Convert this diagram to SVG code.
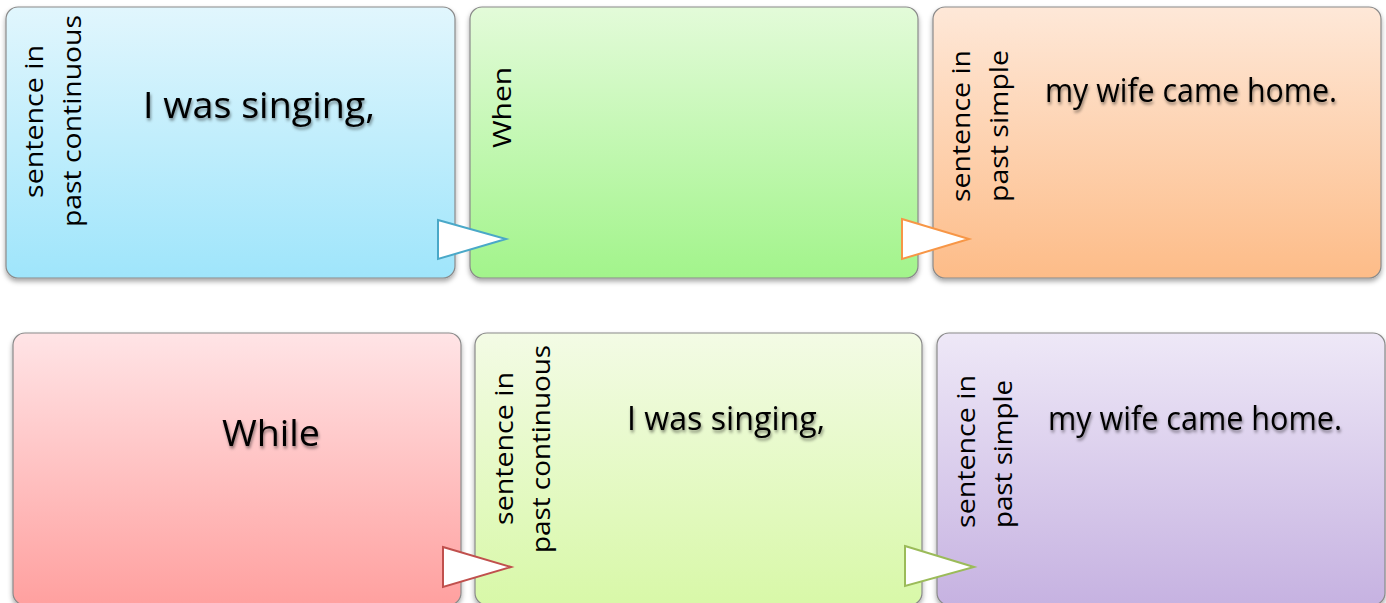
<svg xmlns="http://www.w3.org/2000/svg" width="1386" height="603" viewBox="0 0 1386 603">
  <defs>
    <linearGradient id="gBlue" x1="0" y1="0" x2="0" y2="1">
      <stop offset="0" stop-color="#e1f6fd"/>
      <stop offset="1" stop-color="#9fe5fb"/>
    </linearGradient>
    <linearGradient id="gGreen" x1="0" y1="0" x2="0" y2="1">
      <stop offset="0" stop-color="#e3fbd9"/>
      <stop offset="1" stop-color="#a2f48b"/>
    </linearGradient>
    <linearGradient id="gOrange" x1="0" y1="0" x2="0" y2="1">
      <stop offset="0" stop-color="#fee8d8"/>
      <stop offset="1" stop-color="#fdbc88"/>
    </linearGradient>
    <linearGradient id="gRed" x1="0" y1="0" x2="0" y2="1">
      <stop offset="0" stop-color="#ffe4e6"/>
      <stop offset="1" stop-color="#ffa09f"/>
    </linearGradient>
    <linearGradient id="gLime" x1="0" y1="0" x2="0" y2="1">
      <stop offset="0" stop-color="#f3fbe5"/>
      <stop offset="1" stop-color="#d8f8a8"/>
    </linearGradient>
    <linearGradient id="gPurple" x1="0" y1="0" x2="0" y2="1">
      <stop offset="0" stop-color="#eee8f7"/>
      <stop offset="1" stop-color="#c6b2e1"/>
    </linearGradient>
    <filter id="boxShadow" x="-5%" y="-5%" width="110%" height="115%">
      <feDropShadow dx="0" dy="3" stdDeviation="2.5" flood-color="#000" flood-opacity="0.35"/>
    </filter>
    <filter id="textShadow" x="-10%" y="-30%" width="120%" height="160%">
      <feDropShadow dx="1" dy="2.5" stdDeviation="1.8" flood-color="#000" flood-opacity="0.45"/>
    </filter>
  </defs>
  <style>
    .box { stroke: #8a8a8a; stroke-width: 1.2; filter: url(#boxShadow); }
    .lbl { font-family: "Open Sans", "DejaVu Sans", sans-serif; font-size: 26px; fill: #000; text-anchor: middle; }
    .main { font-family: "Open Sans", "DejaVu Sans", sans-serif; fill: #000; filter: url(#textShadow); }
    .flag { fill: #fff; stroke-width: 2; stroke-linejoin: miter; }
  </style>

  <rect width="1386" height="603" fill="#fff"/>

  <!-- top row -->
  <g id="node-past-continuous-1">
    <rect class="box" x="6" y="7" width="449" height="271" rx="12" fill="url(#gBlue)"/>
    <text class="lbl" transform="translate(43,121.5) rotate(-90)" textLength="153" lengthAdjust="spacingAndGlyphs">sentence in</text>
    <text class="lbl" transform="translate(81,121) rotate(-90)" textLength="212" lengthAdjust="spacingAndGlyphs">past continuous</text>
    <text class="main" x="143" y="118" font-size="37" textLength="232" lengthAdjust="spacingAndGlyphs">I was singing,</text>
  </g>

  <g id="node-when">
    <rect class="box" x="470" y="7" width="448" height="271" rx="12" fill="url(#gGreen)"/>
    <text class="lbl" transform="translate(511,107.5) rotate(-90)" textLength="81" lengthAdjust="spacingAndGlyphs">When</text>
  </g>

  <g id="node-past-simple-1">
    <rect class="box" x="933" y="7" width="448" height="271" rx="12" fill="url(#gOrange)"/>
    <text class="lbl" transform="translate(970,126) rotate(-90)" textLength="152" lengthAdjust="spacingAndGlyphs">sentence in</text>
    <text class="lbl" transform="translate(1008,126) rotate(-90)" textLength="152" lengthAdjust="spacingAndGlyphs">past simple</text>
    <text class="main" x="1045" y="102" font-size="32" textLength="292" lengthAdjust="spacingAndGlyphs">my wife came home.</text>
  </g>

  <!-- bottom row -->
  <g id="node-while">
    <rect class="box" x="13" y="333" width="448" height="272" rx="12" fill="url(#gRed)"/>
    <text class="main" x="222" y="446" font-size="37" textLength="98" lengthAdjust="spacingAndGlyphs">While</text>
  </g>

  <g id="node-past-continuous-2">
    <rect class="box" x="475" y="333" width="447" height="272" rx="12" fill="url(#gLime)"/>
    <text class="lbl" transform="translate(513,448.5) rotate(-90)" textLength="153" lengthAdjust="spacingAndGlyphs">sentence in</text>
    <text class="lbl" transform="translate(550,449) rotate(-90)" textLength="208" lengthAdjust="spacingAndGlyphs">past continuous</text>
    <text class="main" x="627" y="430" font-size="32" textLength="198" lengthAdjust="spacingAndGlyphs">I was singing,</text>
  </g>

  <g id="node-past-simple-2">
    <rect class="box" x="937" y="333" width="448" height="272" rx="12" fill="url(#gPurple)"/>
    <text class="lbl" transform="translate(975,451.5) rotate(-90)" textLength="153" lengthAdjust="spacingAndGlyphs">sentence in</text>
    <text class="lbl" transform="translate(1012,454) rotate(-90)" textLength="148" lengthAdjust="spacingAndGlyphs">past simple</text>
    <text class="main" x="1048" y="430" font-size="32" textLength="294" lengthAdjust="spacingAndGlyphs">my wife came home.</text>
  </g>

  <!-- connectors: flag arrows between neighbouring boxes -->
  <g id="connectors">
    <polygon class="flag" points="438,220 506,239 438,259" stroke="#4aa8c8"/>
    <polygon class="flag" points="902,219 969,239 902,259" stroke="#f79646"/>
    <polygon class="flag" points="443,547 511,567 443,587" stroke="#c0504d"/>
    <polygon class="flag" points="905,546 974,567 905,586" stroke="#9bbb59"/>
  </g>
</svg>
